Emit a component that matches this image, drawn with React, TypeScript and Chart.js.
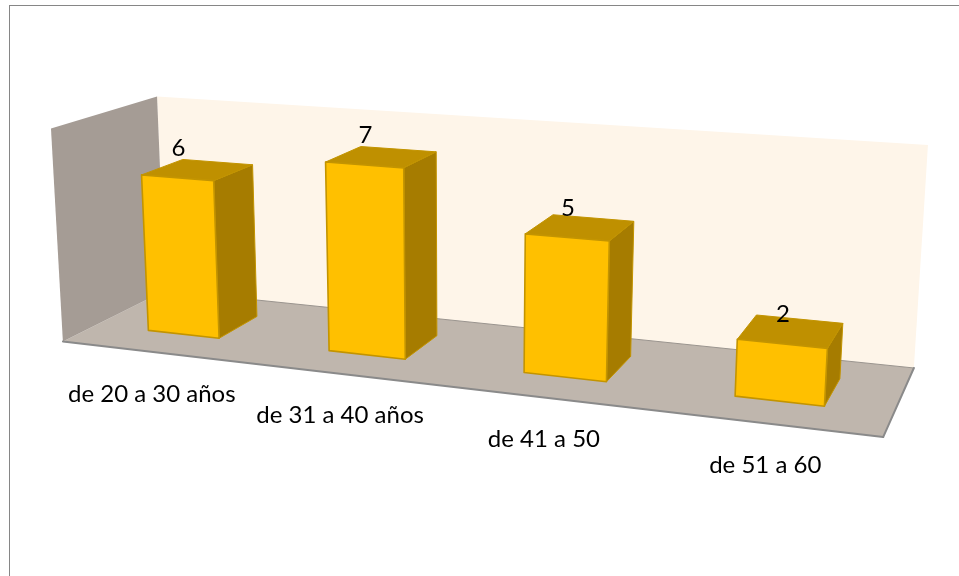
import React, { useEffect, useRef } from "react";
import { Chart, registerables } from "chart.js";

Chart.register(...registerables);

const categories = ["de 20 a 30 años", "de 31 a 40 años", "de 41 a 50", "de 51 a 60"];
const values = [6, 7, 5, 2];
const axisMax = 8;

// Box corners of the 3D scene as [X, Y, Z, screenX, screenY]
const boxCorners: number[][] = [
  [0, 0, 0, 63, 342],
  [1, 0, 0, 883, 437],
  [0, 0, 1, 165, 290],
  [1, 0, 1, 914, 368],
  [0, 1, 1, 157, 97],
  [1, 1, 1, 928, 145],
  [0, 1, 0, 51, 128],
];
const barDepthFront = 0.31;
const barDepthBack = 0.72;
const FONT = "Lato, 'Open Sans', sans-serif";

function solve(A: number[][], b: number[]): number[] {
  const n = b.length;
  const M = A.map((r, i) => [...r, b[i]]);
  for (let c = 0; c < n; c++) {
    let piv = c;
    for (let r = c + 1; r < n; r++) if (Math.abs(M[r][c]) > Math.abs(M[piv][c])) piv = r;
    [M[c], M[piv]] = [M[piv], M[c]];
    for (let r = 0; r < n; r++) {
      if (r === c) continue;
      const f = M[r][c] / M[c][c];
      for (let k = c; k <= n; k++) M[r][k] -= f * M[c][k];
    }
  }
  return M.map((r, i) => r[n] / r[i]);
}

function fitProjection(): number[] {
  const rows: number[][] = [];
  const rhs: number[] = [];
  const S = 1000;
  for (const [X, Y, Z, sx, sy] of boxCorners) {
    const u = sx / S;
    const v = sy / S;
    rows.push([X, Y, Z, 1, 0, 0, 0, 0, -u * X, -u * Y, -u * Z]);
    rhs.push(u);
    rows.push([0, 0, 0, 0, X, Y, Z, 1, -v * X, -v * Y, -v * Z]);
    rhs.push(v);
  }
  const n = 11;
  const AtA = Array.from({ length: n }, (_, i) =>
    Array.from({ length: n }, (_, j) => rows.reduce((s, r) => s + r[i] * r[j], 0))
  );
  const Atb = Array.from({ length: n }, (_, i) => rows.reduce((s, r, k) => s + r[i] * rhs[k], 0));
  return solve(AtA, Atb);
}

const P = fitProjection();
function project(X: number, Y: number, Z: number): [number, number] {
  const w = P[8] * X + P[9] * Y + P[10] * Z + 1;
  return [
    (1000 * (P[0] * X + P[1] * Y + P[2] * Z + P[3])) / w,
    (1000 * (P[4] * X + P[5] * Y + P[6] * Z + P[7])) / w,
  ];
}

function poly(ctx: CanvasRenderingContext2D, pts: [number, number][], fill: string | CanvasGradient, stroke?: string, lw = 1) {
  ctx.beginPath();
  pts.forEach((p, i) => (i ? ctx.lineTo(p[0], p[1]) : ctx.moveTo(p[0], p[1])));
  ctx.closePath();
  ctx.fillStyle = fill;
  ctx.fill();
  if (stroke) {
    ctx.strokeStyle = stroke;
    ctx.lineWidth = lw;
    ctx.lineJoin = "round";
    ctx.stroke();
  }
}

const scene3d = {
  id: "scene3d",
  beforeDatasetsDraw(chart: any) {
    const ctx: CanvasRenderingContext2D = chart.ctx;
    ctx.save();
    // outer chart frame
    ctx.strokeStyle = "#868686";
    ctx.lineWidth = 1;
    ctx.strokeRect(9.5, 5.5, 1100, 700);

    // back wall
    poly(ctx, [project(0, 0, 1), project(1, 0, 1), project(1, 1, 1), project(0, 1, 1)], "#FEF5E9");
    // floor
    poly(ctx, [project(0, 0, 0), project(1, 0, 0), project(1, 0, 1), project(0, 0, 1)], "#BFB6AD");
    // left wall
    poly(ctx, [project(0, 0, 0), project(0, 0, 1), project(0, 1, 1), project(0, 1, 0)], "#A59C95");

    // floor edges
    ctx.lineCap = "round";
    const seg = (a: [number, number], b: [number, number], c: string, w: number) => {
      ctx.beginPath();
      ctx.moveTo(a[0], a[1]);
      ctx.lineTo(b[0], b[1]);
      ctx.strokeStyle = c;
      ctx.lineWidth = w;
      ctx.stroke();
    };
    seg(project(0, 0, 1), project(1, 0, 1), "#9A948E", 1);
    seg(project(0, 0, 0), project(1, 0, 0), "#8A8A8A", 2);
    seg(project(1, 0, 0), project(1, 0, 1), "#8A8A8A", 2);
    ctx.restore();
  },
  beforeDatasetDraw() {
    return false;
  },
  afterDatasetsDraw(chart: any) {
    const ctx: CanvasRenderingContext2D = chart.ctx;
    const area = chart.chartArea;
    const meta = chart.getDatasetMeta(0);
    const yScale = chart.scales.y;
    const ds = chart.data.datasets[0];
    ctx.save();
    meta.data.forEach((el: any, i: number) => {
      const { x, y, base, width } = el.getProps(["x", "y", "base", "width"], true);
      const x0 = (x - width / 2 - area.left) / area.width;
      const x1 = (x + width / 2 - area.left) / area.width;
      const y0 = (yScale.bottom - base) / yScale.height;
      const y1 = (yScale.bottom - y) / yScale.height;
      const zf = barDepthFront;
      const zb = barDepthBack;
      const border = ds.borderColor as string;
      poly(ctx, [project(x1, y0, zf), project(x1, y0, zb), project(x1, y1, zb), project(x1, y1, zf)], "#A67C00", border, 1);
      poly(ctx, [project(x0, y1, zf), project(x1, y1, zf), project(x1, y1, zb), project(x0, y1, zb)], "#BF9000", border, 1);
      poly(ctx, [project(x0, y0, zf), project(x1, y0, zf), project(x1, y1, zf), project(x0, y1, zf)], ds.backgroundColor as string, border, 1.6);

      // value label, anchored to the front-centre of the bar top
      const c = project((x0 + x1) / 2, y1, zf);
      ctx.fillStyle = "#000";
      ctx.font = `24px ${FONT}`;
      ctx.textAlign = "center";
      ctx.textBaseline = "middle";
      ctx.fillText(String(values[i]), c[0] + 1, c[1] - 29.5);

      // category label under the front edge of the floor
      const f = project((x - area.left) / area.width, 0, 0);
      ctx.fillText(chart.data.labels[i], f[0], f[1] + 42);
    });
    ctx.restore();
  },
};

export default function App() {
  const ref = useRef<HTMLCanvasElement>(null);
  useEffect(() => {
    const chart = new Chart(ref.current!, {
      type: "bar",
      data: {
        labels: categories,
        datasets: [
          {
            data: values,
            backgroundColor: "#FFC000",
            borderColor: "#C39400",
            categoryPercentage: 0.4,
            barPercentage: 1,
          },
        ],
      },
      options: {
        responsive: false,
        animation: false,
        layout: { padding: { left: 63, right: 76, top: 97, bottom: 234 } },
        scales: {
          x: { display: false },
          y: { display: false, min: 0, max: axisMax },
        },
        plugins: { legend: { display: false }, tooltip: { enabled: false } },
      },
      plugins: [scene3d as any],
    });
    return () => chart.destroy();
  }, []);
  return (
    <canvas
      ref={ref}
      width={959}
      height={576}
      style={{ position: "fixed", left: 0, top: 0, width: 959, height: 576, display: "block" }}
    />
  );
}
